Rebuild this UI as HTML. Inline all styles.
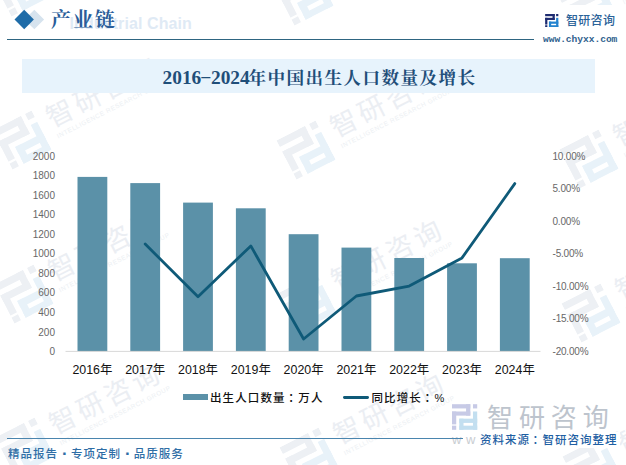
<!DOCTYPE html>
<html lang="zh-CN">
<head>
<meta charset="utf-8">
<title>2016-2024年中国出生人口数量及增长</title>
<style>
  html, body { margin: 0; padding: 0; background: #ffffff; }
  body { width: 626px; height: 465px; overflow: hidden; position: relative;
         font-family: "Liberation Sans", "Noto Sans CJK SC", sans-serif; }
  #page { position: absolute; left: 0; top: 0; width: 626px; height: 465px; overflow: hidden; background: #fff; }
  .abs { position: absolute; white-space: nowrap; }

  /* watermarks */
  .wm { position: absolute; width: 0; height: 0; transform: rotate(-27deg); }
  .wm .wt { position: absolute; left: 32.5px; top: -24px; font-size: 27px; line-height: 36px; letter-spacing: 3.8px; color: #ebeef3; white-space: nowrap; font-weight: 400; }
  .wm .we { position: absolute; left: 33px; top: 9px; font-size: 6.4px; line-height: 8px; letter-spacing: 0.55px; color: #eceff3; white-space: nowrap; }

  /* header */
  #hd-cn { left: 51px; top: 5.5px; font-family: "Liberation Serif", "Noto Serif CJK SC", serif; font-weight: 700;
           font-size: 20px; line-height: 28px; letter-spacing: 2px; color: #2a5d99; }
  #hd-en { right: 434px; top: 12.5px; font-size: 16px; line-height: 22px; font-weight: 700; color: #dfeaf5; letter-spacing: 0.1px; }
  #hd-line { left: 7px; top: 38.6px; width: 527px; height: 1.6px; background: #2e6581; }
  #brand { left: 566px; top: 12px; font-size: 12px; line-height: 18px; letter-spacing: 0.3px; color: #2b6399; font-weight: 500; }
  #url { left: 543px; top: 33px; font-family: "Liberation Mono", monospace; font-weight: 700; font-size: 9.6px; line-height: 14px; color: #2f5f8e; letter-spacing: -0.04px; }

  /* title */
  #banner { left: 22px; top: 59px; width: 573px; height: 34px; background: #e7f3fc; }
  #title { left: 162.5px; top: 64.9px; font-family: "Liberation Serif", "Noto Serif CJK SC", serif; font-weight: 700;
           font-size: 17.6px; line-height: 26px; letter-spacing: 1.4px; color: #1f4e79; }
  #title .n { font-size: 19.4px; letter-spacing: 0; font-weight: 700; margin-right: -1.2px; }
  #title .hy { display: inline-block; width: 9.7px; text-align: center; transform: translateY(-1.6px) scale(1.8, 0.75); }

  /* chart */
  .yl { position: absolute; left: 20px; width: 35px; text-align: right; font-size: 10px; line-height: 12px; color: #686868; }
  .yr { position: absolute; left: 552.5px; font-size: 10px; line-height: 12px; color: #686868; letter-spacing: -0.2px; }
  .xl { position: absolute; width: 52px; text-align: center; top: 362.2px; font-size: 12.4px; line-height: 16px; color: #111; }

  /* legend */
  .lg { position: absolute; top: 388.5px; font-size: 11.5px; line-height: 18px; letter-spacing: 1.12px; color: #111; font-weight: 500; }

  .cl { position: relative; left: 2.6px; }

  /* footer */
  .dot { display: inline-block; width: 11.9px; padding-left: 1px; text-align: center; font-weight: 700; font-size: 17px; line-height: 0; letter-spacing: 0; vertical-align: baseline; position: relative; top: 1px; }
  #ft-line { left: 7px; top: 437.9px; width: 456px; height: 1.5px; background: #4a85ae; }
  #ft-left { left: 8px; top: 445px; font-size: 11.5px; line-height: 18px; letter-spacing: 1px; color: #2f6ea6; font-weight: 500; }
  #ft-src { left: 478px; top: 431.5px; padding: 0 2px 0 2px; background: #fff; font-size: 11.5px; line-height: 16px; letter-spacing: 1px; color: #1f5fa3; font-weight: 500; }
  #big-cn { left: 487px; top: 400px; font-size: 26px; line-height: 36px; letter-spacing: 5.9px; color: #bdc4cd; font-weight: 400; }
  #big-url { left: 452px; top: 431px; font-size: 13px; line-height: 18px; letter-spacing: 4.6px; color: #c9cdd2; }
</style>
</head>
<body>
<div id="page">

  <!-- WATERMARKS -->
  <div class="wm" style="left:20.5px;top:-13.5px"><svg style="position:absolute;left:-22.3px;top:-22.3px" width="44.6" height="44.6" viewBox="0 0 26 26"><g fill="#edf0f4"><rect x="0" y="0" width="18.6" height="4.3"/><rect x="14.3" y="0" width="4.3" height="11.6"/><rect x="0" y="7.4" width="18.6" height="4.2"/><rect x="0" y="7.4" width="4.3" height="13.1"/><rect x="0" y="21.8" width="4.3" height="4.2"/><rect x="21.3" y="0" width="4.3" height="4.3"/></g><g fill="#e8f2f9"><rect x="21.3" y="7.4" width="4.3" height="18.6"/><rect x="7.4" y="14.7" width="18.2" height="4.3"/><rect x="7.4" y="14.7" width="4.3" height="11.3"/><rect x="7.4" y="21.8" width="18.2" height="4.2"/></g></svg><div class="wt">智研咨询</div><div class="we">INTELLIGENCE RESEARCH GROUP</div></div>
  <div class="wm" style="left:304.0px;top:-4.0px"><svg style="position:absolute;left:-22.3px;top:-22.3px" width="44.6" height="44.6" viewBox="0 0 26 26"><g fill="#edf0f4"><rect x="0" y="0" width="18.6" height="4.3"/><rect x="14.3" y="0" width="4.3" height="11.6"/><rect x="0" y="7.4" width="18.6" height="4.2"/><rect x="0" y="7.4" width="4.3" height="13.1"/><rect x="0" y="21.8" width="4.3" height="4.2"/><rect x="21.3" y="0" width="4.3" height="4.3"/></g><g fill="#e8f2f9"><rect x="21.3" y="7.4" width="4.3" height="18.6"/><rect x="7.4" y="14.7" width="18.2" height="4.3"/><rect x="7.4" y="14.7" width="4.3" height="11.3"/><rect x="7.4" y="21.8" width="18.2" height="4.2"/></g></svg><div class="wt">智研咨询</div><div class="we">INTELLIGENCE RESEARCH GROUP</div></div>
  <div class="wm" style="left:587.5px;top:5.5px"><svg style="position:absolute;left:-22.3px;top:-22.3px" width="44.6" height="44.6" viewBox="0 0 26 26"><g fill="#edf0f4"><rect x="0" y="0" width="18.6" height="4.3"/><rect x="14.3" y="0" width="4.3" height="11.6"/><rect x="0" y="7.4" width="18.6" height="4.2"/><rect x="0" y="7.4" width="4.3" height="13.1"/><rect x="0" y="21.8" width="4.3" height="4.2"/><rect x="21.3" y="0" width="4.3" height="4.3"/></g><g fill="#e8f2f9"><rect x="21.3" y="7.4" width="4.3" height="18.6"/><rect x="7.4" y="14.7" width="18.2" height="4.3"/><rect x="7.4" y="14.7" width="4.3" height="11.3"/><rect x="7.4" y="21.8" width="18.2" height="4.2"/></g></svg><div class="wt">智研咨询</div><div class="we">INTELLIGENCE RESEARCH GROUP</div></div>
  <div class="wm" style="left:22.0px;top:140.0px"><svg style="position:absolute;left:-22.3px;top:-22.3px" width="44.6" height="44.6" viewBox="0 0 26 26"><g fill="#edf0f4"><rect x="0" y="0" width="18.6" height="4.3"/><rect x="14.3" y="0" width="4.3" height="11.6"/><rect x="0" y="7.4" width="18.6" height="4.2"/><rect x="0" y="7.4" width="4.3" height="13.1"/><rect x="0" y="21.8" width="4.3" height="4.2"/><rect x="21.3" y="0" width="4.3" height="4.3"/></g><g fill="#e8f2f9"><rect x="21.3" y="7.4" width="4.3" height="18.6"/><rect x="7.4" y="14.7" width="18.2" height="4.3"/><rect x="7.4" y="14.7" width="4.3" height="11.3"/><rect x="7.4" y="21.8" width="18.2" height="4.2"/></g></svg><div class="wt">智研咨询</div><div class="we">INTELLIGENCE RESEARCH GROUP</div></div>
  <div class="wm" style="left:305.5px;top:149.5px"><svg style="position:absolute;left:-22.3px;top:-22.3px" width="44.6" height="44.6" viewBox="0 0 26 26"><g fill="#edf0f4"><rect x="0" y="0" width="18.6" height="4.3"/><rect x="14.3" y="0" width="4.3" height="11.6"/><rect x="0" y="7.4" width="18.6" height="4.2"/><rect x="0" y="7.4" width="4.3" height="13.1"/><rect x="0" y="21.8" width="4.3" height="4.2"/><rect x="21.3" y="0" width="4.3" height="4.3"/></g><g fill="#e8f2f9"><rect x="21.3" y="7.4" width="4.3" height="18.6"/><rect x="7.4" y="14.7" width="18.2" height="4.3"/><rect x="7.4" y="14.7" width="4.3" height="11.3"/><rect x="7.4" y="21.8" width="18.2" height="4.2"/></g></svg><div class="wt">智研咨询</div><div class="we">INTELLIGENCE RESEARCH GROUP</div></div>
  <div class="wm" style="left:589.0px;top:159.0px"><svg style="position:absolute;left:-22.3px;top:-22.3px" width="44.6" height="44.6" viewBox="0 0 26 26"><g fill="#edf0f4"><rect x="0" y="0" width="18.6" height="4.3"/><rect x="14.3" y="0" width="4.3" height="11.6"/><rect x="0" y="7.4" width="18.6" height="4.2"/><rect x="0" y="7.4" width="4.3" height="13.1"/><rect x="0" y="21.8" width="4.3" height="4.2"/><rect x="21.3" y="0" width="4.3" height="4.3"/></g><g fill="#e8f2f9"><rect x="21.3" y="7.4" width="4.3" height="18.6"/><rect x="7.4" y="14.7" width="18.2" height="4.3"/><rect x="7.4" y="14.7" width="4.3" height="11.3"/><rect x="7.4" y="21.8" width="18.2" height="4.2"/></g></svg><div class="wt">智研咨询</div><div class="we">INTELLIGENCE RESEARCH GROUP</div></div>
  <div class="wm" style="left:23.5px;top:293.5px"><svg style="position:absolute;left:-22.3px;top:-22.3px" width="44.6" height="44.6" viewBox="0 0 26 26"><g fill="#edf0f4"><rect x="0" y="0" width="18.6" height="4.3"/><rect x="14.3" y="0" width="4.3" height="11.6"/><rect x="0" y="7.4" width="18.6" height="4.2"/><rect x="0" y="7.4" width="4.3" height="13.1"/><rect x="0" y="21.8" width="4.3" height="4.2"/><rect x="21.3" y="0" width="4.3" height="4.3"/></g><g fill="#e8f2f9"><rect x="21.3" y="7.4" width="4.3" height="18.6"/><rect x="7.4" y="14.7" width="18.2" height="4.3"/><rect x="7.4" y="14.7" width="4.3" height="11.3"/><rect x="7.4" y="21.8" width="18.2" height="4.2"/></g></svg><div class="wt">智研咨询</div><div class="we">INTELLIGENCE RESEARCH GROUP</div></div>
  <div class="wm" style="left:307.0px;top:303.0px"><svg style="position:absolute;left:-22.3px;top:-22.3px" width="44.6" height="44.6" viewBox="0 0 26 26"><g fill="#edf0f4"><rect x="0" y="0" width="18.6" height="4.3"/><rect x="14.3" y="0" width="4.3" height="11.6"/><rect x="0" y="7.4" width="18.6" height="4.2"/><rect x="0" y="7.4" width="4.3" height="13.1"/><rect x="0" y="21.8" width="4.3" height="4.2"/><rect x="21.3" y="0" width="4.3" height="4.3"/></g><g fill="#e8f2f9"><rect x="21.3" y="7.4" width="4.3" height="18.6"/><rect x="7.4" y="14.7" width="18.2" height="4.3"/><rect x="7.4" y="14.7" width="4.3" height="11.3"/><rect x="7.4" y="21.8" width="18.2" height="4.2"/></g></svg><div class="wt">智研咨询</div><div class="we">INTELLIGENCE RESEARCH GROUP</div></div>
  <div class="wm" style="left:590.5px;top:312.5px"><svg style="position:absolute;left:-22.3px;top:-22.3px" width="44.6" height="44.6" viewBox="0 0 26 26"><g fill="#edf0f4"><rect x="0" y="0" width="18.6" height="4.3"/><rect x="14.3" y="0" width="4.3" height="11.6"/><rect x="0" y="7.4" width="18.6" height="4.2"/><rect x="0" y="7.4" width="4.3" height="13.1"/><rect x="0" y="21.8" width="4.3" height="4.2"/><rect x="21.3" y="0" width="4.3" height="4.3"/></g><g fill="#e8f2f9"><rect x="21.3" y="7.4" width="4.3" height="18.6"/><rect x="7.4" y="14.7" width="18.2" height="4.3"/><rect x="7.4" y="14.7" width="4.3" height="11.3"/><rect x="7.4" y="21.8" width="18.2" height="4.2"/></g></svg><div class="wt">智研咨询</div><div class="we">INTELLIGENCE RESEARCH GROUP</div></div>
  <div class="wm" style="left:25.0px;top:447.0px"><svg style="position:absolute;left:-22.3px;top:-22.3px" width="44.6" height="44.6" viewBox="0 0 26 26"><g fill="#edf0f4"><rect x="0" y="0" width="18.6" height="4.3"/><rect x="14.3" y="0" width="4.3" height="11.6"/><rect x="0" y="7.4" width="18.6" height="4.2"/><rect x="0" y="7.4" width="4.3" height="13.1"/><rect x="0" y="21.8" width="4.3" height="4.2"/><rect x="21.3" y="0" width="4.3" height="4.3"/></g><g fill="#e8f2f9"><rect x="21.3" y="7.4" width="4.3" height="18.6"/><rect x="7.4" y="14.7" width="18.2" height="4.3"/><rect x="7.4" y="14.7" width="4.3" height="11.3"/><rect x="7.4" y="21.8" width="18.2" height="4.2"/></g></svg><div class="wt">智研咨询</div><div class="we">INTELLIGENCE RESEARCH GROUP</div></div>
  <div class="wm" style="left:308.5px;top:456.5px"><svg style="position:absolute;left:-22.3px;top:-22.3px" width="44.6" height="44.6" viewBox="0 0 26 26"><g fill="#edf0f4"><rect x="0" y="0" width="18.6" height="4.3"/><rect x="14.3" y="0" width="4.3" height="11.6"/><rect x="0" y="7.4" width="18.6" height="4.2"/><rect x="0" y="7.4" width="4.3" height="13.1"/><rect x="0" y="21.8" width="4.3" height="4.2"/><rect x="21.3" y="0" width="4.3" height="4.3"/></g><g fill="#e8f2f9"><rect x="21.3" y="7.4" width="4.3" height="18.6"/><rect x="7.4" y="14.7" width="18.2" height="4.3"/><rect x="7.4" y="14.7" width="4.3" height="11.3"/><rect x="7.4" y="21.8" width="18.2" height="4.2"/></g></svg><div class="wt">智研咨询</div><div class="we">INTELLIGENCE RESEARCH GROUP</div></div>
  <div class="wm" style="left:592.0px;top:466.0px"><svg style="position:absolute;left:-22.3px;top:-22.3px" width="44.6" height="44.6" viewBox="0 0 26 26"><g fill="#edf0f4"><rect x="0" y="0" width="18.6" height="4.3"/><rect x="14.3" y="0" width="4.3" height="11.6"/><rect x="0" y="7.4" width="18.6" height="4.2"/><rect x="0" y="7.4" width="4.3" height="13.1"/><rect x="0" y="21.8" width="4.3" height="4.2"/><rect x="21.3" y="0" width="4.3" height="4.3"/></g><g fill="#e8f2f9"><rect x="21.3" y="7.4" width="4.3" height="18.6"/><rect x="7.4" y="14.7" width="18.2" height="4.3"/><rect x="7.4" y="14.7" width="4.3" height="11.3"/><rect x="7.4" y="21.8" width="18.2" height="4.2"/></g></svg><div class="wt">智研咨询</div><div class="we">INTELLIGENCE RESEARCH GROUP</div></div>

  <!-- HEADER -->
  <div class="abs" style="left:536px;top:5px;width:90px;height:47px;background:#fff"></div>
  <svg class="abs" style="left:0;top:0" width="60" height="40" viewBox="0 0 60 40">
    <polygon points="24.5,19.5 34.3,9.7 44.1,19.5 34.3,29.3" fill="#d6e3ee"/>
    <polygon points="14.5,19.5 24.2,9.7 33.9,19.5 24.2,29.3" fill="#1f6ca8"/>
  </svg>
  <div id="hd-en" class="abs">Industrial Chain</div>
  <div id="hd-cn" class="abs">产业链</div>
  <div id="hd-line" class="abs"></div>
  <svg class="abs" style="left:545px;top:14px" width="13.7" height="13.4" viewBox="0 0 26 26">
    <g fill="#1d2b70">
      <rect x="0" y="0" width="18.6" height="4.3"/><rect x="14.3" y="0" width="4.3" height="11.6"/>
      <rect x="0" y="7.4" width="18.6" height="4.2"/><rect x="0" y="7.4" width="4.3" height="13.1"/>
      <rect x="0" y="21.8" width="4.3" height="4.2"/><rect x="21.3" y="0" width="4.3" height="4.3"/>
    </g>
    <g fill="#2383cf">
      <rect x="21.3" y="7.4" width="4.3" height="18.6"/><rect x="7.4" y="14.7" width="18.2" height="4.3"/>
      <rect x="7.4" y="14.7" width="4.3" height="11.3"/><rect x="7.4" y="21.8" width="18.2" height="4.2"/>
    </g>
  </svg>
  <div id="brand" class="abs">智研咨询</div>
  <div id="url" class="abs">www.chyxx.com</div>

  <!-- TITLE -->
  <div id="banner" class="abs"></div>
  <div id="title" class="abs"><span class="n">2016<span class="hy">-</span>2024</span>年中国出生人口数量及增长</div>

  <!-- CHART -->
  <svg class="abs" style="left:0;top:0" width="626" height="465" viewBox="0 0 626 465">
  <g fill="#5b91a8">
  <rect x="77.5" y="176.9" width="29.8" height="174.5"/>
  <rect x="130.3" y="183.1" width="29.8" height="168.3"/>
  <rect x="183.1" y="202.6" width="29.8" height="148.8"/>
  <rect x="235.9" y="208.3" width="29.8" height="143.1"/>
  <rect x="288.7" y="234.2" width="29.8" height="117.2"/>
  <rect x="341.5" y="247.6" width="29.8" height="103.8"/>
  <rect x="394.3" y="258.0" width="29.8" height="93.4"/>
  <rect x="447.1" y="263.3" width="29.8" height="88.1"/>
  <rect x="499.9" y="258.2" width="29.8" height="93.2"/>
  </g>
  <rect x="65.5" y="350.9" width="475" height="1" fill="#d9d9d9"/>
  <polyline points="145.2,244.1 198.0,296.7 250.8,245.9 303.6,339.0 356.4,296.0 409.2,286.1 462.0,257.9 514.8,183.6" fill="none" stroke="#0f5a78" stroke-width="2.8" stroke-linejoin="round" stroke-linecap="round"/>
  </svg>
  <div class="yl" style="top:150.6px">2000</div>
  <div class="yl" style="top:170.1px">1800</div>
  <div class="yl" style="top:189.7px">1600</div>
  <div class="yl" style="top:209.2px">1400</div>
  <div class="yl" style="top:228.8px">1200</div>
  <div class="yl" style="top:248.3px">1000</div>
  <div class="yl" style="top:267.8px">800</div>
  <div class="yl" style="top:287.4px">600</div>
  <div class="yl" style="top:306.9px">400</div>
  <div class="yl" style="top:326.5px">200</div>
  <div class="yl" style="top:346.0px">0</div>
  <div class="yr" style="top:150.6px">10.00%</div>
  <div class="yr" style="top:183.2px">5.00%</div>
  <div class="yr" style="top:215.7px">0.00%</div>
  <div class="yr" style="top:248.3px">-5.00%</div>
  <div class="yr" style="top:280.9px">-10.00%</div>
  <div class="yr" style="top:313.4px">-15.00%</div>
  <div class="yr" style="top:346.0px">-20.00%</div>
  <div class="xl" style="left:66.4px">2016年</div>
  <div class="xl" style="left:119.2px">2017年</div>
  <div class="xl" style="left:172.0px">2018年</div>
  <div class="xl" style="left:224.8px">2019年</div>
  <div class="xl" style="left:277.6px">2020年</div>
  <div class="xl" style="left:330.4px">2021年</div>
  <div class="xl" style="left:383.2px">2022年</div>
  <div class="xl" style="left:436.0px">2023年</div>
  <div class="xl" style="left:488.8px">2024年</div>

  <!-- LEGEND -->
  <div class="abs" style="left:183px;top:394px;width:25px;height:5.6px;background:#5b91a8"></div>
  <div class="lg abs" style="left:210px">出生人口数量<span class="cl">：</span>万人</div>
  <div class="abs" style="left:343px;top:395.7px;width:26px;height:2.9px;border-radius:1.45px;background:#0f5a78"></div>
  <div class="lg abs" style="left:371.5px">同比增长<span class="cl">：</span><span style="font-size:11px;letter-spacing:0">%</span></div>

  <!-- FOOTER -->
  <svg class="abs" style="left:452px;top:404px" width="25.6" height="26" viewBox="0 0 26 26">
    <g fill="#c7cae6">
      <rect x="0" y="0" width="18.6" height="4.3"/><rect x="14.3" y="0" width="4.3" height="11.6"/>
      <rect x="0" y="7.4" width="18.6" height="4.2"/><rect x="0" y="7.4" width="4.3" height="13.1"/>
      <rect x="0" y="21.8" width="4.3" height="4.2"/><rect x="21.3" y="0" width="4.3" height="4.3"/>
    </g>
    <g fill="#c3dff0">
      <rect x="21.3" y="7.4" width="4.3" height="18.6"/><rect x="7.4" y="14.7" width="18.2" height="4.3"/>
      <rect x="7.4" y="14.7" width="4.3" height="11.3"/><rect x="7.4" y="21.8" width="18.2" height="4.2"/>
    </g>
  </svg>
  <div id="big-cn" class="abs">智研咨询</div>
  <div id="big-url" class="abs">www.chyxx.com</div>
  <div id="ft-line" class="abs"></div>
  <div id="ft-left" class="abs">精品报告<span class="dot"> · </span>专项定制<span class="dot"> · </span>品质服务</div>
  <div id="ft-src" class="abs">资料来源<span class="cl">：</span>智研咨询整理</div>

</div>
</body>
</html>
